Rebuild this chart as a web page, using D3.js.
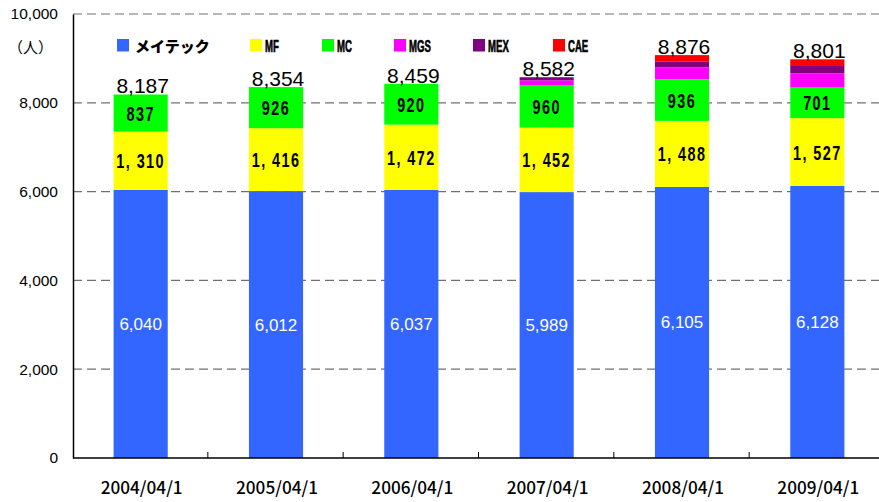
<!DOCTYPE html>
<html><head><meta charset="utf-8">
<script src="https://cdn.jsdelivr.net/npm/d3@7"></script>
<style>body{margin:0;background:#fff}svg{display:block}</style>
</head><body>
<svg id="c" width="879" height="502"></svg>
<script>
const categories = ["2004/04/1","2005/04/1","2006/04/1","2007/04/1","2008/04/1","2009/04/1"];
const seriesNames = ["メイテック","MF","MC","MGS","MEX","CAE"];
const meitec = [6040, 6012, 6037, 5989, 6105, 6128];
const mf     = [1310, 1416, 1472, 1452, 1488, 1527];
const mc     = [837, 926, 920, 960, 936, 701];
const mgs    = [0, 0, 0, 105, 270, 308];
const mex    = [0, 0, 0, 70, 125, 165];
const cae    = [0, 0, 0, 0, 150, 150];
const totalLabels = [8187, 8354, 8459, 8582, 8876, 8801];
const yTicks = [0, 2000, 4000, 6000, 8000, 10000];
const colors = ["#3366FF","#FFFF00","#00FF00","#FF00FF","#800080","#FF0000"];

(function () {
const svg = d3.select("#c");
const pLeft = 73, pRight = 885, pTop = 14, pBottom = 458;
const x = d3.scaleBand().domain(categories).range([pLeft, pRight]).paddingInner(0.6).paddingOuter(0.3);
const y = d3.scaleLinear().domain([0, 10000]).range([pBottom, pTop]);

const rows = categories.map((c, i) => ({cat: c, "メイテック": meitec[i], MF: mf[i], MC: mc[i], MGS: mgs[i], MEX: mex[i], CAE: cae[i]}));
const stack = d3.stack().keys(seriesNames)(rows);

// gridlines
svg.append("g").selectAll("line").data(yTicks.filter(d => d > 0)).join("line")
  .attr("x1", pLeft).attr("x2", 879).attr("y1", d => y(d)).attr("y2", d => y(d))
  .attr("stroke", "#707070").attr("stroke-width", 1.2).attr("stroke-dasharray", "9,5");

// bars
stack.forEach((s, k) => {
  svg.append("g").attr("fill", colors[k]).selectAll("rect").data(s).join("rect")
    .attr("x", d => x(d.data.cat)).attr("width", x.bandwidth())
    .attr("y", d => y(d[1])).attr("height", d => y(d[0]) - y(d[1]));
});

// axes
const yAxis = svg.append("g").attr("transform", `translate(${pLeft},0)`)
  .call(d3.axisLeft(y).tickValues(yTicks).tickSize(0).tickPadding(15).tickFormat(d3.format(",")));
yAxis.select(".domain").attr("stroke", "#000").attr("stroke-width", 1.5);
yAxis.selectAll("text").attr("font-family", "Liberation Sans, Arial, sans-serif").attr("font-size", 15.5).attr("fill", "#000");

svg.append("line").attr("x1", pLeft).attr("x2", 879).attr("y1", pBottom).attr("y2", pBottom).attr("stroke", "#000").attr("stroke-width", 1.5);
// category separator ticks
svg.append("g").selectAll("line").data(categories.slice(1)).join("line")
  .attr("x1", d => x(d) - x.step() * x.paddingInner() / 2 - 0.5).attr("x2", d => x(d) - x.step() * x.paddingInner() / 2 - 0.5)
  .attr("y1", pBottom).attr("y2", pBottom - 6).attr("stroke", "#000").attr("stroke-width", 1);

svg.append("g").selectAll("text").data(categories).join("text")
  .attr("x", d => x(d) + x.bandwidth() / 2 + 1).attr("y", 494)
  .attr("text-anchor", "middle").attr("font-family", "Noto Sans CJK JP, sans-serif").attr("font-size", 17)
  .attr("font-weight", 500)
  .attr("textLength", 82).attr("lengthAdjust", "spacingAndGlyphs").attr("fill", "#000").text(d => d);

svg.append("text").attr("x", 8).attr("y", 53).attr("font-family", "Noto Sans CJK JP, sans-serif")
  .attr("font-size", 15).attr("fill", "#000").text("（人）");

// legend
const legX = [117, 250, 322, 394, 473, 553];
seriesNames.forEach((n, k) => {
  svg.append("rect").attr("x", legX[k]).attr("y", 39).attr("width", 12).attr("height", 12.5).attr("fill", colors[k]);
  if (k === 0) {
    svg.append("text").attr("x", legX[k] + 18).attr("y", 51.5).attr("font-family", "Noto Sans CJK JP, sans-serif")
      .attr("font-weight", 900).attr("font-size", 15).attr("fill", "#000").text(n);
  } else {
    svg.append("text").attr("transform", `translate(${legX[k] + 15},51.5) scale(0.6,1)`)
      .attr("font-family", "Liberation Sans, Arial, sans-serif").attr("font-weight", "bold").attr("font-size", 16)
      .attr("stroke", "#000").attr("stroke-width", 0.6)
      .attr("fill", "#000").text(n);
  }
});

// segment labels
const fmt = d3.format(",");
svg.append("g").selectAll("text").data(stack[0]).join("text")
  .attr("x", d => x(d.data.cat) + x.bandwidth() / 2).attr("y", d => (y(d[0]) + y(d[1])) / 2 + 6)
  .attr("text-anchor", "middle").attr("font-family", "Liberation Sans, Arial, sans-serif").attr("font-size", 17)
  .attr("fill", "#fff").text(d => fmt(d.data["メイテック"]));
[1, 2].forEach(k => {
  svg.append("g").selectAll("text").data(stack[k]).join("text")
    .attr("transform", d => `translate(${x(d.data.cat) + x.bandwidth() / 2},${(y(d[0]) + y(d[1])) / 2 + 7.5}) scale(0.72,1)`)
    .attr("text-anchor", "middle").attr("font-family", "Liberation Sans, Arial, sans-serif").attr("font-weight", "bold")
    .attr("font-size", 20).attr("letter-spacing", 2).attr("fill", "#000").text(d => fmt(d.data[seriesNames[k]]).replace(",", ", "));
});
const topS = stack[stack.length - 1];
svg.append("g").selectAll("text").data(topS).join("text")
  .attr("x", d => x(d.data.cat) + x.bandwidth() / 2 + 2).attr("y", d => y(d[1]) - 1)
  .attr("text-anchor", "middle").attr("font-family", "Liberation Sans, Arial, sans-serif").attr("font-size", 21)
  .attr("fill", "#000").text((d, i) => fmt(totalLabels[i]));
})();
</script>
</body></html>
